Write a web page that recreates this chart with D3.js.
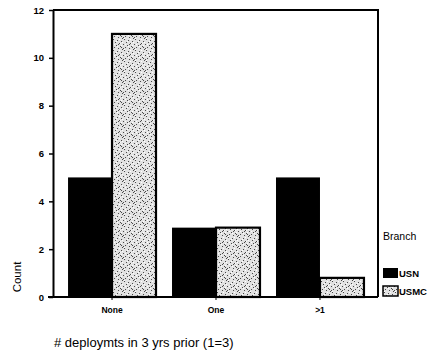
<!DOCTYPE html>
<html>
<head>
<meta charset="utf-8">
<script src="https://cdn.jsdelivr.net/npm/d3@7"></script>
<style>
html,body{margin:0;padding:0;background:#fff;}
svg{display:block;font-family:"Liberation Sans",Arial,sans-serif;}
</style>
</head>
<body>
<svg id="chart" width="433" height="353"></svg>
<script>
const categories = ["None", "One", ">1"];
const seriesNames = ["USN", "USMC"];
const usnValues = [5, 2.9, 5];
const usmcValues = [11, 2.9, 0.8];
const yTicks = [0, 2, 4, 6, 8, 10, 12];
const xTitle = "# deploymts in 3 yrs prior (1=3)";
const yTitle = "Count";
const legendTitle = "Branch";

(function () {
const svg = d3.select("#chart");
const pLeft = 53, pRight = 378, pTop = 10, pBottom = 297;

// stipple pattern (scanned grey texture)
const defs = svg.append("defs");
const pat = defs.append("pattern").attr("id", "stip").attr("patternUnits", "userSpaceOnUse")
  .attr("width", 11).attr("height", 11);
pat.append("rect").attr("width", 11).attr("height", 11).attr("fill", "#e2e2e2");
const darkDots = [[0,0],[4,1],[8,2],[2,3],[6,4],[10,5],[1,6],[5,7],[9,8],[3,9],[7,10],[0,4],[6,0],[9,3]];
const whiteDots = [[2,0],[9,1],[5,2],[1,5],[7,6],[4,8],[10,9],[8,10]];
darkDots.forEach(([px,py]) => pat.append("rect").attr("x", px).attr("y", py).attr("width", 1).attr("height", 1).attr("fill", "#444"));
whiteDots.forEach(([px,py]) => pat.append("rect").attr("x", px).attr("y", py).attr("width", 1).attr("height", 1).attr("fill", "#fff"));

const x0 = d3.scaleBand().domain(categories).range([pLeft + 1, pRight]).paddingInner(0.154).paddingOuter(0.135);
const x1 = d3.scaleBand().domain(seriesNames).range([0, x0.bandwidth()]);
const y = d3.scaleLinear().domain([0, 12]).range([pBottom, pTop]);

const data = categories.map((c, i) => ({cat: c, vals: [
  {s: "USN", v: usnValues[i]}, {s: "USMC", v: usmcValues[i]}]}));

const g = svg.append("g");
g.selectAll("g.grp").data(data).join("g").attr("class", "grp")
  .attr("transform", d => `translate(${x0(d.cat)},0)`)
  .selectAll("rect").data(d => d.vals).join("rect")
  .attr("x", d => x1(d.s))
  .attr("y", d => y(d.v))
  .attr("width", x1.bandwidth())
  .attr("height", d => y(0) - y(d.v))
  .attr("fill", d => d.s === "USN" ? "#000" : "url(#stip)")
  .attr("stroke", "#000")
  .attr("stroke-width", d => d.s === "USN" ? 0 : 2.2);

// frame
svg.append("line").attr("x1", pLeft).attr("x2", pRight).attr("y1", pTop).attr("y2", pTop).attr("stroke", "#000").attr("stroke-width", 2);
svg.append("line").attr("x1", pRight).attr("x2", pRight).attr("y1", pTop - 1).attr("y2", pBottom).attr("stroke", "#000").attr("stroke-width", 2);

// y axis
const yAxis = svg.append("g").attr("transform", `translate(${pLeft},0)`)
  .call(d3.axisLeft(y).tickValues(yTicks).tickSize(4).tickPadding(5).tickSizeOuter(0));
yAxis.select(".domain").attr("stroke-width", 2);
yAxis.selectAll("line").attr("stroke-width", 1.5);
yAxis.selectAll("text").attr("font-size", 9.5).attr("font-weight", "bold").attr("font-family", "Liberation Sans, Arial, sans-serif");

// x axis
const xAxis = svg.append("g").attr("transform", `translate(0,${pBottom})`)
  .call(d3.axisBottom(x0).tickSize(3).tickPadding(7).tickSizeOuter(0));
xAxis.select(".domain").attr("d", `M${pLeft - 5},0H${pRight}`).attr("stroke-width", 2);
xAxis.selectAll("text").attr("font-size", 8.5).attr("font-weight", "bold").attr("font-family", "Liberation Sans, Arial, sans-serif");

// titles
svg.append("text").attr("x", 54).attr("y", 347).attr("font-size", 13).text(xTitle);
svg.append("text").attr("transform", "translate(21,277) rotate(-90)").attr("text-anchor", "middle")
  .attr("font-size", 11.5).text(yTitle);

// legend
svg.append("text").attr("x", 383).attr("y", 240).attr("font-size", 10.5).text(legendTitle);
const leg = svg.append("g").selectAll("g").data(seriesNames).join("g")
  .attr("transform", (d, i) => `translate(383,${268 + i * 18})`);
leg.append("rect").attr("width", 15).attr("height", 10)
  .attr("fill", d => d === "USN" ? "#000" : "url(#stip)")
  .attr("stroke", "#000").attr("stroke-width", d => d === "USN" ? 0 : 1.5);
leg.append("text").attr("x", 16).attr("y", 9).attr("font-size", 9.5).attr("font-weight", "bold").text(d => d);
})();
</script>
</body>
</html>
